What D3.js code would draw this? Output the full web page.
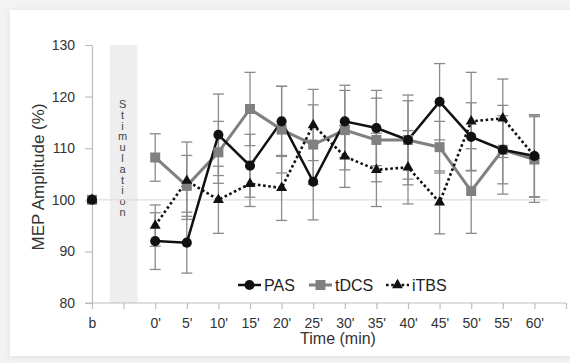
<!DOCTYPE html>
<html>
<head>
<meta charset="utf-8">
<script src="https://cdn.jsdelivr.net/npm/d3@7"></script>
<style>
    body { margin: 0; background: #f3f3f3; }
    svg { display: block; font-family: "Liberation Sans", Arial, sans-serif; }
</style>
</head>
<body>
<script>
// categories on the x axis (index 1 and the last slot are empty)
var categories = ["b", "", "0'", "5'", "10'", "15'", "20'", "25'", "30'", "35'", "40'", "45'", "50'", "55'", "60'", ""];

var pas = [100, null, 92.0, 91.7, 112.6, 106.6, 115.2, 103.5, 115.2, 113.9, 111.6, 119.0, 112.2, 109.7, 108.5, null];
var pasErr = [0, null, 5.5, 5.9, 7.9, 6.1, 6.8, 7.4, 7.0, 7.3, 8.7, 7.4, 6.6, 6.6, 8.0, null];

var tdcs = [100, null, 108.2, 102.7, 109.2, 117.6, 113.6, 110.7, 113.5, 111.6, 111.6, 110.2, 101.7, 109.7, 107.8, null];
var tdcsErr = [0, null, 4.6, 5.9, 6.0, 7.1, 8.4, 7.7, 7.7, 8.1, 7.6, 5.0, 8.2, 8.6, 8.3, null];

var itbs = [100, null, 95.0, 103.7, 100.0, 103.1, 102.3, 114.5, 108.4, 105.8, 106.3, 99.5, 115.2, 115.8, 108.5, null];
var itbsErr = [0, null, 4.0, 7.5, 6.5, 4.4, 6.3, 6.9, 6.0, 7.1, 7.1, 6.1, 9.5, 7.6, 7.9, null];

var yTicks = [80, 90, 100, 110, 120, 130];
var bandLabel = "Stimulation";

var width = 570, height = 363;
var axisColor = "#bdbdbd";

var svg = d3.select("body").append("svg")
    .attr("width", width)
    .attr("height", height);

// card
var defs = svg.append("defs");
var shadow = defs.append("filter").attr("id", "shadow")
    .attr("x", "-5%").attr("y", "-5%").attr("width", "110%").attr("height", "110%");
shadow.append("feDropShadow")
    .attr("dx", 0).attr("dy", 1).attr("stdDeviation", 3)
    .attr("flood-color", "#000").attr("flood-opacity", 0.08);

svg.append("rect")
    .attr("x", 10).attr("y", 10)
    .attr("width", 562).attr("height", 346)
    .style("fill", "#fff")
    .attr("filter", "url(#shadow)");

var x = d3.scalePoint()
    .domain(d3.range(categories.length))
    .range([92, 566]);

var y = d3.scaleLinear()
    .domain([80, 130])
    .range([303, 45]);

var step = x.step();

// stimulation band
svg.append("rect")
    .attr("x", x(1) - step * 0.44)
    .attr("y", y(130))
    .attr("width", step * 0.88)
    .attr("height", y(80) - y(130))
    .style("fill", "#eeeeee");

// vertical, upright letters in one text element
svg.append("text")
    .attr("x", x(1) - 1)
    .attr("y", 98)
    .style("writing-mode", "vertical-rl")
    .style("text-orientation", "upright")
    .style("font-size", "11px")
    .style("letter-spacing", "-1.2px")
    .style("fill", "#444")
    .text(bandLabel);

// reference line at 100 %
svg.append("line")
    .attr("x1", x(0)).attr("x2", x(14) + 13)
    .attr("y1", y(100)).attr("y2", y(100))
    .style("stroke", "#dedede")
    .style("stroke-width", 1.2);

// axes
var yAxis = svg.append("g")
    .attr("transform", "translate(" + x(0) + ",0)")
    .call(d3.axisLeft(y).tickValues(yTicks).tickSize(7).tickPadding(10).tickSizeOuter(0));

var xAxis = svg.append("g")
    .attr("transform", "translate(0," + y(80) + ")")
    .call(d3.axisBottom(x).tickFormat(function (i) { return categories[i]; })
        .tickSize(6).tickPadding(9).tickSizeOuter(0));

xAxis.select(".domain").attr("d", "M85,0H" + x(categories.length - 1));

[xAxis, yAxis].forEach(function (ax) {
    ax.selectAll("path, line").style("stroke", axisColor).style("stroke-width", 1.2);
    ax.selectAll("text").style("font-size", "14px").style("fill", "#333");
});

svg.append("text")
    .attr("transform", "translate(38," + ((y(80) + y(130)) / 2 + 3) + ") rotate(-90)")
    .attr("text-anchor", "middle")
    .attr("dominant-baseline", "central")
    .style("font-size", "17px")
    .style("fill", "#333")
    .text("MEP Amplitude (%)");

svg.append("text")
    .attr("x", 338)
    .attr("y", 344)
    .attr("text-anchor", "middle")
    .style("font-size", "16px")
    .style("fill", "#333")
    .text("Time (min)");

// series
var series = [
    {name: "tDCS", values: tdcs, err: tdcsErr, color: "#808080", width: 3, dash: null, symbol: d3.symbolSquare, size: 100},
    {name: "PAS", values: pas, err: pasErr, color: "#111", width: 2.5, dash: null, symbol: d3.symbolCircle, size: 80},
    {name: "iTBS", values: itbs, err: itbsErr, color: "#111", width: 2.6, dash: "2.6,2.6", symbol: d3.symbolTriangle, size: 52}
];

var capW = 5.5;

series.forEach(function (s) {
    var eb = svg.append("g")
        .style("stroke", "#8a8a8a")
        .style("stroke-width", 1.3);
    s.values.forEach(function (v, i) {
        if (v == null || !s.err[i]) return;
        var top = y(v + s.err[i]), bot = y(v - s.err[i]);
        eb.append("line").attr("x1", x(i)).attr("x2", x(i)).attr("y1", top).attr("y2", bot);
        eb.append("line").attr("x1", x(i) - capW).attr("x2", x(i) + capW).attr("y1", top).attr("y2", top);
        eb.append("line").attr("x1", x(i) - capW).attr("x2", x(i) + capW).attr("y1", bot).attr("y2", bot);
    });
});

var line = d3.line()
    .defined(function (d) { return d.v != null; })
    .x(function (d) { return x(d.i); })
    .y(function (d) { return y(d.v); });

series.forEach(function (s) {
    var pts = s.values.map(function (v, i) { return {i: i, v: i === 0 ? null : v}; });
    svg.append("path")
        .attr("d", line(pts))
        .style("fill", "none")
        .style("stroke", s.color)
        .style("stroke-width", s.width)
        .style("stroke-dasharray", s.dash);
});

series.forEach(function (s) {
    s.values.forEach(function (v, i) {
        if (v == null) return;
        svg.append("path")
            .attr("d", d3.symbol().type(s.symbol).size(s.size)())
            .attr("transform", "translate(" + x(i) + "," + y(v) + ")")
            .style("fill", s.color);
    });
});

// legend
var legendItems = [series[1], series[0], series[2]];
var legendX = [238, 309, 386];
var ly = 285;

legendItems.forEach(function (s, k) {
    var g = svg.append("g").attr("transform", "translate(" + legendX[k] + "," + ly + ")");
    g.append("line")
        .attr("x1", 0).attr("x2", 23)
        .style("stroke", s.color)
        .style("stroke-width", s.width)
        .style("stroke-dasharray", s.dash);
    g.append("path")
        .attr("d", d3.symbol().type(s.symbol).size(s.size)())
        .attr("transform", "translate(11.5,0)")
        .style("fill", s.color);
    g.append("text")
        .attr("x", 26)
        .attr("dominant-baseline", "central")
        .style("font-size", "16px")
        .style("fill", "#222")
        .text(s.name);
});
</script>
</body>
</html>
